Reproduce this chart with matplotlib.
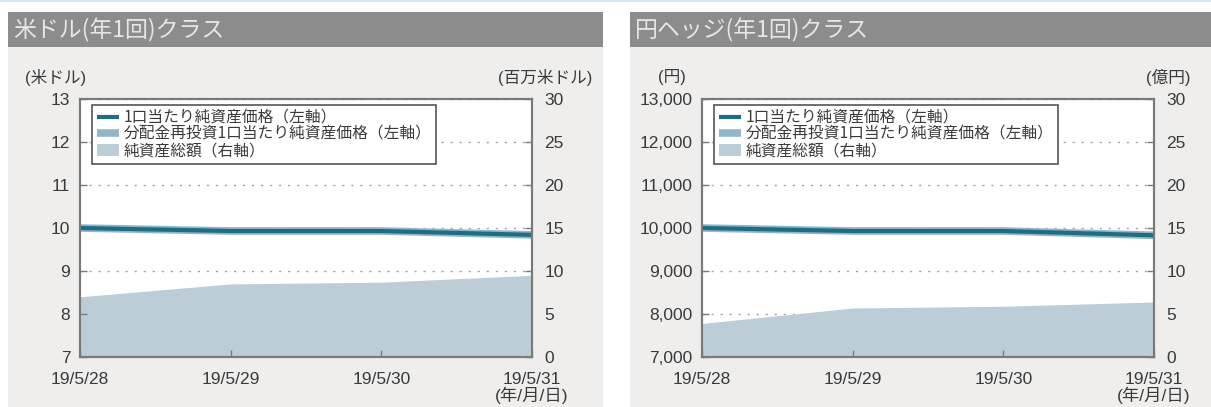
import numpy as np
import pandas as pd
import matplotlib
matplotlib.use('Agg')
import matplotlib.pyplot as plt
from matplotlib.patches import Rectangle
from matplotlib.ticker import StrMethodFormatter

plt.rcParams['font.family'] = ['Liberation Sans', 'Noto Sans CJK JP']

# ---------------- data ----------------
dates = ['2019-05-28', '2019-05-29', '2019-05-30', '2019-05-31']
date_labels = ['19/5/28', '19/5/29', '19/5/30', '19/5/31\n(年/月/日)']

legend_labels = ['1口当たり純資産価格（左軸）',
                 '分配金再投資1口当たり純資産価格（左軸）',
                 '純資産総額（右軸）']

usd_title = '米ドル(年1回)クラス'
usd_nav = [10.00, 9.93, 9.93, 9.84]
usd_nav_reinvest = [10.00, 9.93, 9.93, 9.84]
usd_assets = [7.0, 8.5, 8.7, 9.5]
usd_left_ticks = [7, 8, 9, 10, 11, 12, 13]
usd_right_ticks = [0, 5, 10, 15, 20, 25, 30]
usd_left_unit = '(米ドル)'
usd_right_unit = '(百万米ドル)'

jpy_title = '円ヘッジ(年1回)クラス'
jpy_nav = [10000, 9930, 9930, 9830]
jpy_nav_reinvest = [10000, 9930, 9930, 9830]
jpy_assets = [3.9, 5.7, 5.9, 6.4]
jpy_left_ticks = [7000, 8000, 9000, 10000, 11000, 12000, 13000]
jpy_right_ticks = [0, 5, 10, 15, 20, 25, 30]
jpy_left_unit = '(円)'
jpy_right_unit = '(億円)'

# ---------------- styles ----------------
W, H = 1211, 407
HEADER = '#8c8c8c'
PANEL = '#efeeed'
NAV_C = '#1b6e86'
REINV_C = '#93b6c6'
AREA_C = '#bdcdd8'
SPINE_C = '#7a7a7a'
TXT_C = '#3a3a3a'
TICK_FS = 12.5

fig = plt.figure(figsize=(W / 100, H / 100), dpi=100)
fig.patch.set_facecolor('white')


def fx(p):
    return p / W


def fy(p):
    return 1 - p / H


def rect(x0, y0, x1, y1, color):
    fig.add_artist(Rectangle((fx(x0), fy(y1)), fx(x1 - x0), (y1 - y0) / H,
                             transform=fig.transFigure, facecolor=color,
                             edgecolor='none', zorder=-10))


# top thin blue line
rect(0, 0, W, 2, '#d6e7f2')


def panel(px0, px1, ax_l, ax_r, title, nav, reinv, assets, lticks, rticks,
          lunit, runit, lunit_x, runit_x, lfmt):
    rect(px0, 12, px1, 47, HEADER)
    rect(px0, 47, px1, H, PANEL)
    fig.text(fx(px0 + 5), fy(30), title, ha='left', va='center',
             fontsize=16.5, color='#e6e6e6',
             family=['Noto Sans CJK JP'])
    fig.text(fx(lunit_x), fy(77), lunit, ha='center', va='center',
             fontsize=12, color=TXT_C)
    fig.text(fx(runit_x), fy(77), runit, ha='center', va='center',
             fontsize=12, color=TXT_C)

    ax = fig.add_axes([fx(ax_l), fy(357), fx(ax_r - ax_l), 258 / H])
    ax2 = ax.twinx()
    ax.set_zorder(ax2.get_zorder() + 1)
    ax.patch.set_visible(False)
    ax2.patch.set_visible(True)
    ax2.patch.set_facecolor('white')

    x = pd.to_datetime(dates)
    area = ax2.fill_between(x, 0, assets, color=AREA_C, lw=0, zorder=2)
    ax2.set_ylim(rticks[0], rticks[-1])
    ax2.set_yticks(rticks)
    ax2.set_axisbelow(True)
    ax2.yaxis.grid(True, color='#a0a0a0', lw=1.0, linestyle=(0, (1.5, 5)))

    l2, = ax.plot(x, reinv, color=REINV_C, lw=5.5, solid_capstyle='butt')
    l1, = ax.plot(x, nav, color=NAV_C, lw=3.0, solid_capstyle='butt')
    ax.set_ylim(lticks[0], lticks[-1])
    ax.set_yticks(lticks)
    ax.yaxis.set_major_formatter(StrMethodFormatter(lfmt))
    ax.set_xlim(x[0], x[-1])
    ax.set_xticks(x)
    ax.set_xticklabels(date_labels)
    for lbl in ax.get_xticklabels():
        lbl.set_linespacing(0.95)

    ax.tick_params(axis='y', direction='in', length=5, width=1,
                   color=SPINE_C, labelsize=TICK_FS, pad=7, labelcolor=TXT_C)
    ax.tick_params(axis='x', direction='in', length=5, width=1,
                   color=SPINE_C, labelsize=TICK_FS, pad=11, labelcolor=TXT_C)
    ax2.tick_params(axis='y', direction='in', length=5, width=1,
                    color=SPINE_C, labelsize=TICK_FS, pad=9, labelcolor=TXT_C)
    for a in (ax, ax2):
        for s in a.spines.values():
            s.set_color(SPINE_C)
            s.set_linewidth(1.5)

    leg = ax.legend([l1, l2, area], legend_labels, loc='upper left',
                    bbox_to_anchor=(12 / (ax_r - ax_l), 1 - 6 / 258),
                    borderaxespad=0,
                    prop={'family': ['Noto Sans CJK JP'], 'size': 11.3},
                    frameon=True, fancybox=False, framealpha=1,
                    edgecolor='#555555', handlelength=1.4,
                    handletextpad=0.3, labelspacing=-0.05, borderpad=0.3,
                    handleheight=0.8)
    leg.get_frame().set_linewidth(1.2)
    for t in leg.get_texts():
        t.set_color(TXT_C)
    return ax, ax2


panel(8, 603, 80, 532, usd_title, usd_nav, usd_nav_reinvest, usd_assets,
      usd_left_ticks, usd_right_ticks, usd_left_unit, usd_right_unit,
      56, 545, '{x:.0f}')
panel(630, W, 702, 1154, jpy_title, jpy_nav, jpy_nav_reinvest, jpy_assets,
      jpy_left_ticks, jpy_right_ticks, jpy_left_unit, jpy_right_unit,
      672, 1168, '{x:,.0f}')

fig.savefig('out.png', dpi=100, facecolor='white')
